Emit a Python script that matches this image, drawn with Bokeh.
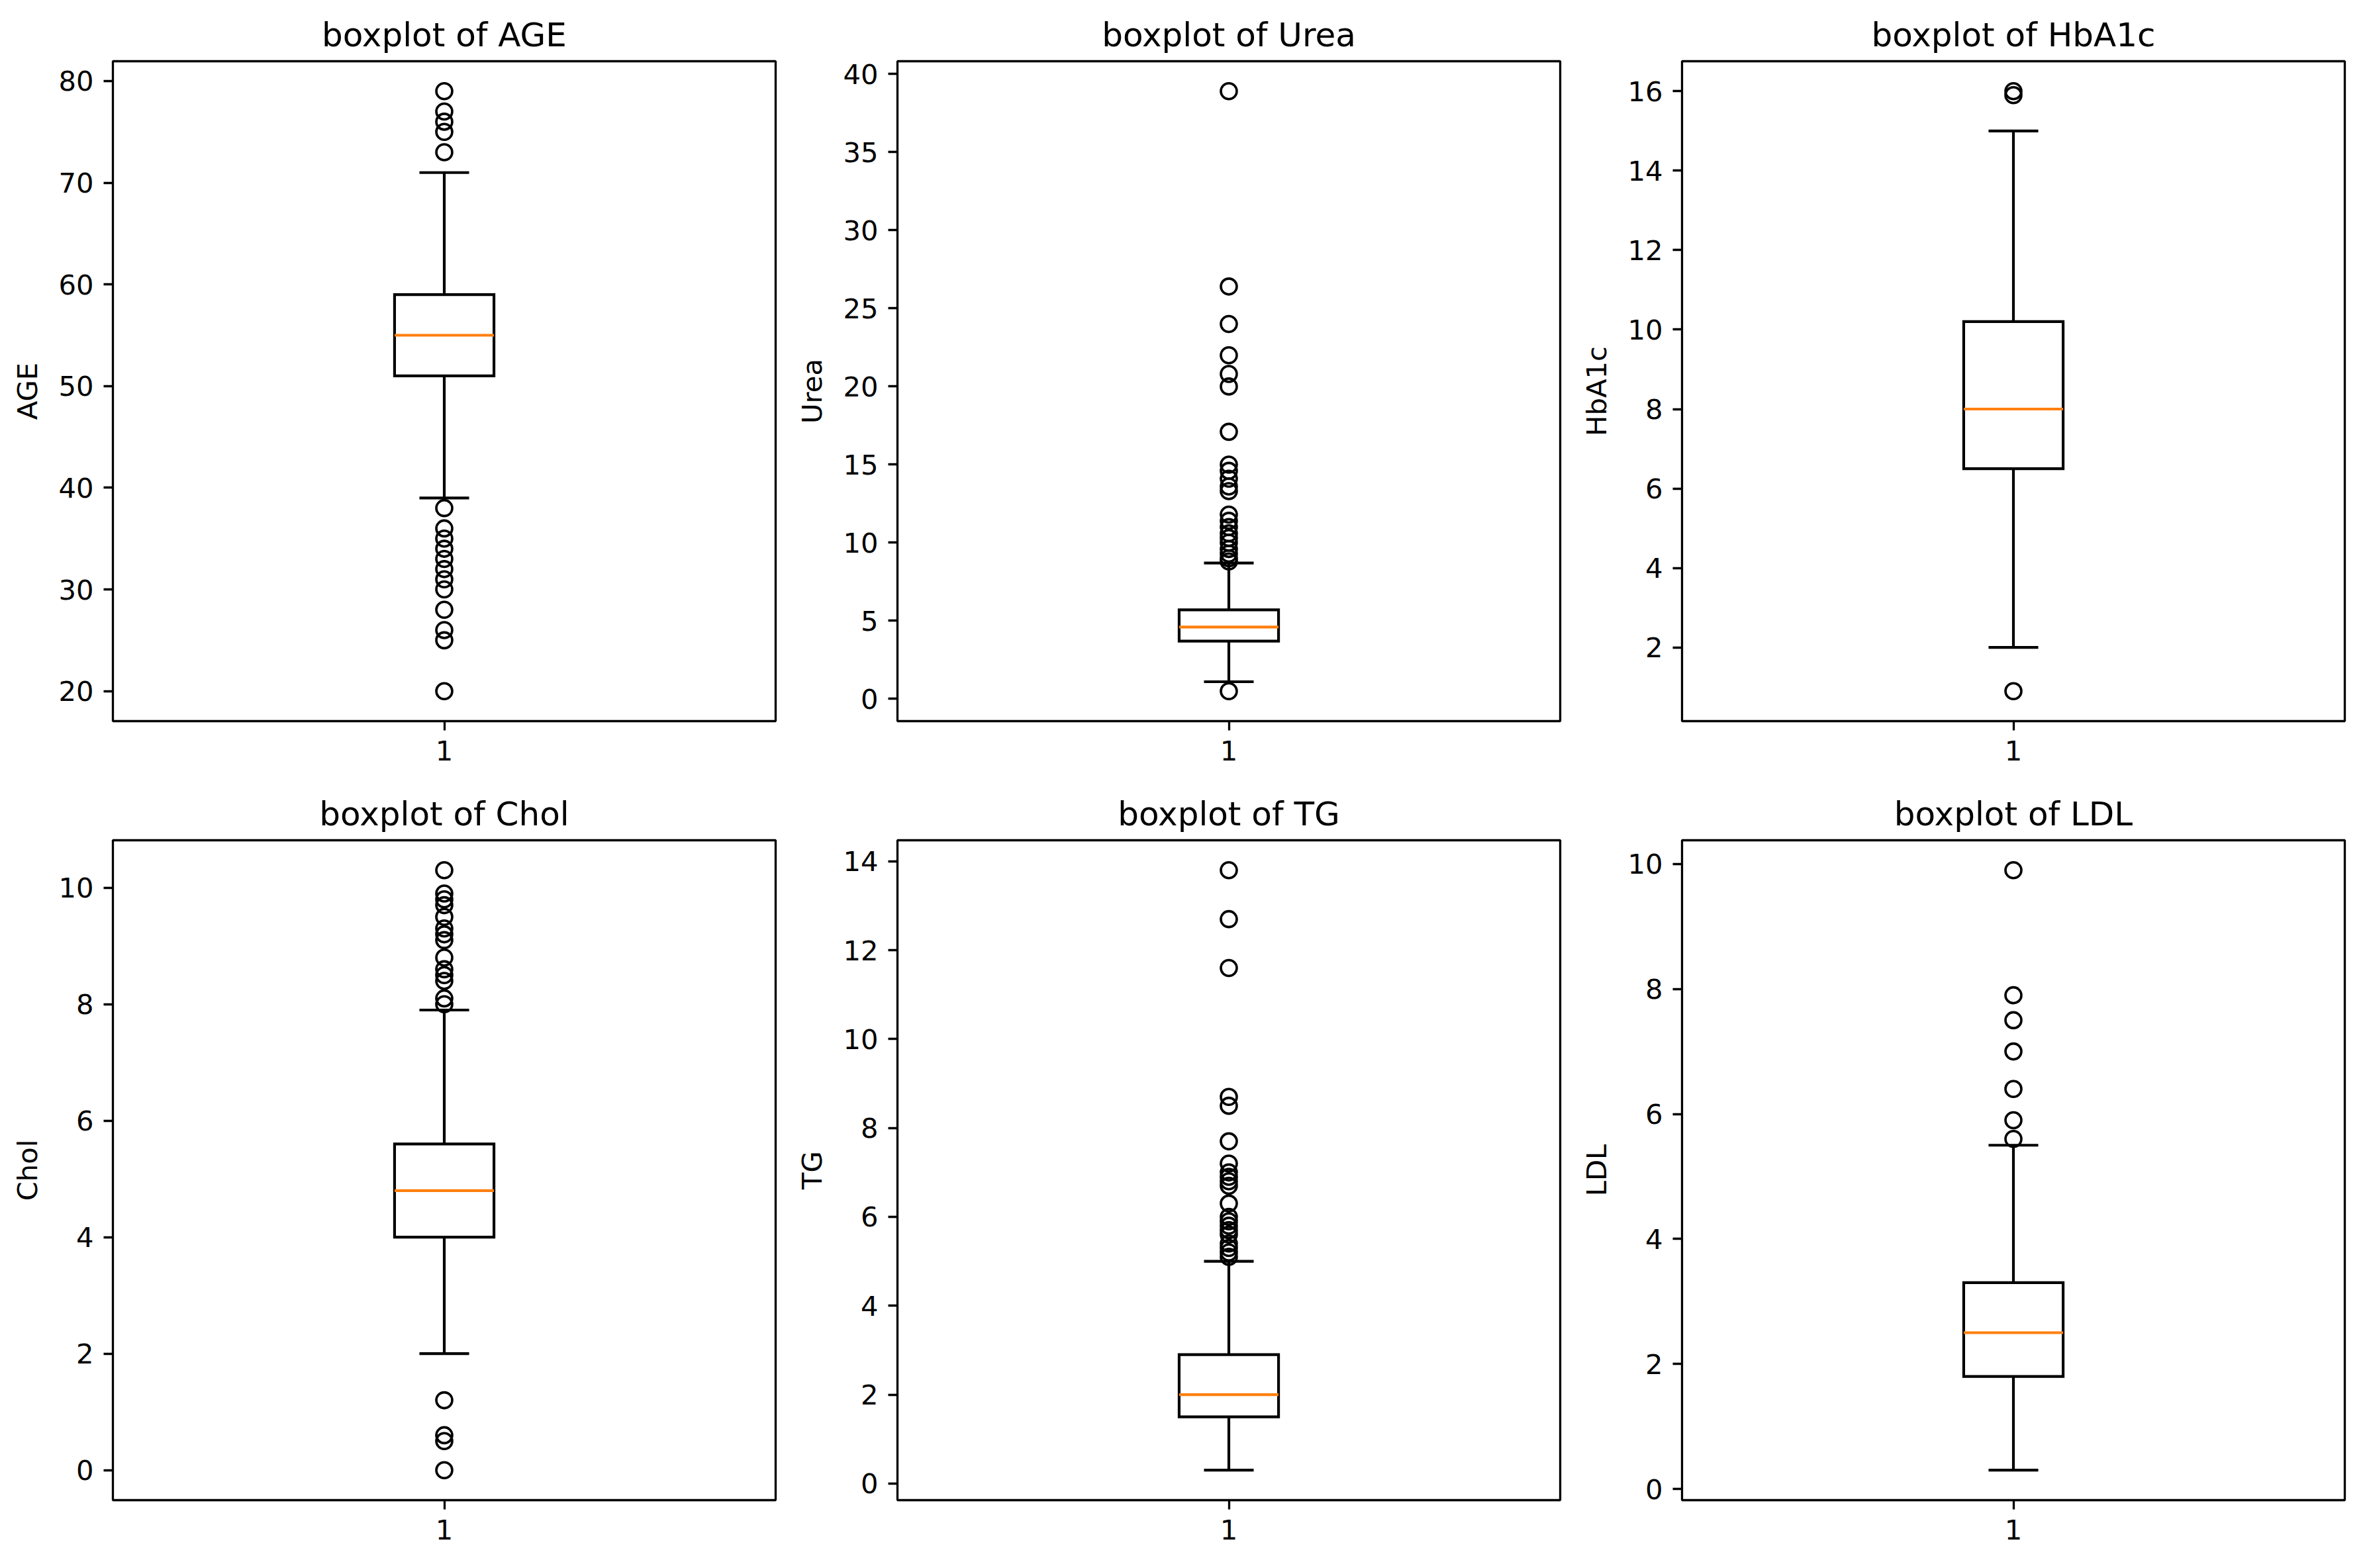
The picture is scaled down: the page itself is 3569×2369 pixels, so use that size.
from bokeh.plotting import figure
from bokeh.layouts import gridplot
from bokeh.models import Range1d, FixedTicker, ColumnDataSource
from bokeh.embed import file_html
from bokeh.resources import INLINE

# ---------------- data ----------------
POSITION = [1]

# box stats: [lower whisker, Q1, median, Q3, upper whisker]
AGE_BOX = [39, 51, 55, 59, 71]
AGE_OUT = [79, 77, 76, 75, 73, 38, 36, 35, 34, 33, 32, 31, 30, 28, 26, 25, 20]
AGE_TICKS = [20, 30, 40, 50, 60, 70, 80]

UREA_BOX = [1.1, 3.7, 4.6, 5.7, 8.7]
UREA_OUT = [38.9, 26.4, 24.0, 22.0, 20.8, 20.0, 17.1, 15.0, 14.6, 14.1, 13.6,
            13.3, 11.8, 11.4, 11.0, 10.6, 10.3, 10.0, 9.6, 9.3, 9.0, 8.8, 0.5]
UREA_TICKS = [0, 5, 10, 15, 20, 25, 30, 35, 40]

HBA1C_BOX = [2.0, 6.5, 8.0, 10.2, 15.0]
HBA1C_OUT = [16.0, 15.9, 0.9]
HBA1C_TICKS = [2, 4, 6, 8, 10, 12, 14, 16]

CHOL_BOX = [2.0, 4.0, 4.8, 5.6, 7.9]
CHOL_OUT = [10.3, 9.9, 9.8, 9.7, 9.5, 9.3, 9.2, 9.1, 8.8, 8.6, 8.5, 8.4, 8.1,
            8.0, 1.2, 0.6, 0.5, 0.0]
CHOL_TICKS = [0, 2, 4, 6, 8, 10]

TG_BOX = [0.3, 1.5, 2.0, 2.9, 5.0]
TG_OUT = [13.8, 12.7, 11.6, 8.7, 8.5, 7.7, 7.2, 7.0, 6.9, 6.8, 6.7, 6.3, 6.0,
          5.9, 5.8, 5.7, 5.6, 5.4, 5.3, 5.2, 5.1]
TG_TICKS = [0, 2, 4, 6, 8, 10, 12, 14]

LDL_BOX = [0.3, 1.8, 2.5, 3.3, 5.5]
LDL_OUT = [9.9, 7.9, 7.5, 7.0, 6.4, 5.9, 5.6]
LDL_TICKS = [0, 2, 4, 6, 8, 10]

NAMES = ["AGE", "Urea", "HbA1c", "Chol", "TG", "LDL"]

# ---------------- style ----------------
FONT = "DejaVu Sans"
BOX_W = 0.15
CAP_W = 0.075
LW = 4.17
SPINE = 3.3
MEDIAN_COLOR = "#ff7f0e"


def make_panel(name, box, out, ticks, height, top, bottom):
    lo_w, q1, med, q3, hi_w = box
    vals = list(box) + list(out)
    vmin, vmax = min(vals), max(vals)
    pad = 0.05 * (vmax - vmin)
    p = figure(width=1185, height=height,
               x_range=Range1d(0.5, 1.5),
               y_range=Range1d(vmin - pad, vmax + pad),
               output_backend="svg", toolbar_location=None,
               title=f"boxplot of {name}",
               min_border_left=170, min_border_right=14,
               min_border_top=top, min_border_bottom=bottom)
    p.background_fill_color = "white"
    p.border_fill_color = "white"
    p.grid.visible = False
    p.outline_line_color = "black"
    p.outline_line_width = SPINE
    p.outline_line_alpha = 1.0

    x = POSITION
    src = ColumnDataSource(dict(
        x=x, q1=[q1], q3=[q3], med=[med], lo=[lo_w], hi=[hi_w],
        xl=[xi - BOX_W / 2 for xi in x], xr=[xi + BOX_W / 2 for xi in x],
        cl=[xi - CAP_W / 2 for xi in x], cr=[xi + CAP_W / 2 for xi in x],
    ))
    # box
    p.quad(left="xl", right="xr", bottom="q1", top="q3", source=src,
           fill_color=None, line_color="black", line_width=LW,
           line_join="miter")
    # median
    p.segment(x0="xl", x1="xr", y0="med", y1="med", source=src,
              line_color=MEDIAN_COLOR, line_width=LW)
    # whiskers
    p.segment(x0="x", x1="x", y0="q3", y1="hi", source=src,
              line_color="black", line_width=LW)
    p.segment(x0="x", x1="x", y0="lo", y1="q1", source=src,
              line_color="black", line_width=LW)
    # caps
    p.segment(x0="cl", x1="cr", y0="hi", y1="hi", source=src,
              line_color="black", line_width=LW)
    p.segment(x0="cl", x1="cr", y0="lo", y1="lo", source=src,
              line_color="black", line_width=LW)
    # fliers
    p.scatter(x=[x[0]] * len(out), y=out, marker="circle", size=24,
              fill_color=None, line_color="black", line_width=3.6)

    p.xaxis.ticker = FixedTicker(ticks=POSITION)
    p.yaxis.ticker = FixedTicker(ticks=ticks)
    for ax in (p.xaxis[0], p.yaxis[0]):
        ax.axis_line_color = None
        ax.minor_tick_line_color = None
        ax.major_tick_line_color = "black"
        ax.major_tick_line_width = SPINE
        ax.major_tick_out = 14
        ax.major_tick_in = 0
        ax.major_label_standoff = 15
        ax.major_label_text_font = FONT
        ax.major_label_text_font_size = "41.7px"
        ax.major_label_text_color = "black"
    p.yaxis.axis_label = name
    p.yaxis.axis_label_text_font = FONT
    p.yaxis.axis_label_text_font_size = "41.7px"
    p.yaxis.axis_label_text_font_style = "normal"
    p.yaxis.axis_label_text_color = "black"
    p.yaxis.axis_label_standoff = 19

    p.title.text_font = FONT
    p.title.text_font_size = "50px"
    p.title.text_font_style = "normal"
    p.title.text_color = "black"
    p.title.align = "center"
    p.title.standoff = 21
    return p


panels = [
    make_panel(NAMES[0], AGE_BOX, AGE_OUT, AGE_TICKS, 1177, 92, 88),
    make_panel(NAMES[1], UREA_BOX, UREA_OUT, UREA_TICKS, 1177, 92, 88),
    make_panel(NAMES[2], HBA1C_BOX, HBA1C_OUT, HBA1C_TICKS, 1177, 92, 88),
    make_panel(NAMES[3], CHOL_BOX, CHOL_OUT, CHOL_TICKS, 1172, 92, 83),
    make_panel(NAMES[4], TG_BOX, TG_OUT, TG_TICKS, 1172, 92, 83),
    make_panel(NAMES[5], LDL_BOX, LDL_OUT, LDL_TICKS, 1172, 92, 83),
]

grid = gridplot([panels[:3], panels[3:]], toolbar_location=None)

open("out.html", "w").write(file_html(grid, INLINE))
